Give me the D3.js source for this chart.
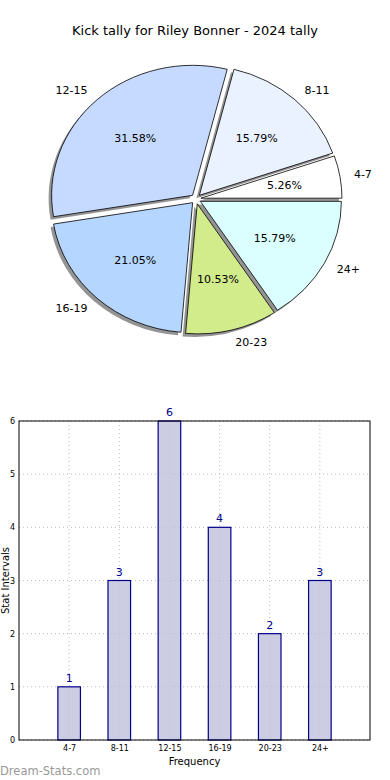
<!DOCTYPE html>
<html>
<head>
<meta charset="utf-8">
<script src="https://cdn.jsdelivr.net/npm/d3@7"></script>
<style>
  body { margin: 0; background: #fff; }
  svg { display: block; font-family: "DejaVu Sans", sans-serif; }
</style>
</head>
<body>
<div id="chart"></div>
<script>
// data
const categories = ["4-7", "8-11", "12-15", "16-19", "20-23", "24+"];
const counts = [1, 3, 6, 4, 2, 3];
const sliceColors = ["#ffffff", "#eaf1ff", "#c6daff", "#b5d6ff", "#d2eb8b", "#dbffff"];
const yTicks = [0, 1, 2, 3, 4, 5, 6];
const title = "Kick tally for Riley Bonner - 2024 tally";

const W = 390, H = 780;
const svg = d3.select("#chart").append("svg")
    .attr("width", W)
    .attr("height", H);

svg.append("text")
    .attr("x", 195).attr("y", 35)
    .attr("text-anchor", "middle")
    .attr("font-size", 13)
    .attr("fill", "#000")
    .text(title);

// ---- pie (matplotlib style: starts east, counter-clockwise, exploded, shadow)
const cx = 196, cy = 199, rx = 141, ry = 130, explode = 5;
const total = d3.sum(counts);

const pie = d3.pie()
    .sort(null)
    .startAngle(Math.PI / 2)
    .endAngle(Math.PI / 2 - 2 * Math.PI);
const arcs = pie(counts);

const arc = d3.arc().innerRadius(0).outerRadius(rx);

const pieG = svg.append("g")
    .attr("transform", "translate(" + cx + "," + cy + ") scale(1," + (ry / rx) + ")");

function offset(d, dist) {
    const a = (d.startAngle + d.endAngle) / 2;
    return [Math.sin(a) * dist, -Math.cos(a) * dist];
}

// shadows first, behind every wedge
pieG.selectAll("path.shadow")
    .data(arcs)
    .enter().append("path")
    .attr("class", "shadow")
    .attr("d", arc)
    .attr("fill", "#000")
    .attr("opacity", 0.42)
    .attr("transform", function (d) {
        const o = offset(d, explode);
        return "translate(" + (o[0] - 3) + "," + (o[1] * rx / ry + 3 * rx / ry) + ")";
    });

pieG.selectAll("path.wedge")
    .data(arcs)
    .enter().append("path")
    .attr("class", "wedge")
    .attr("d", arc)
    .attr("fill", function (d, i) { return sliceColors[i]; })
    .attr("stroke", "#000")
    .attr("stroke-width", 0.8)
    .attr("vector-effect", "non-scaling-stroke")
    .attr("transform", function (d) {
        const o = offset(d, explode);
        return "translate(" + o[0] + "," + (o[1] * rx / ry) + ")";
    });

// labels (outside) and percents (inside), placed in screen space
arcs.forEach(function (d, i) {
    const a = (d.startAngle + d.endAngle) / 2;
    const o = offset(d, explode);
    const sx = Math.sin(a), sy = -Math.cos(a);
    const lx = cx + o[0] + 1.1 * rx * sx;
    const ly = cy + o[1] + 1.1 * ry * sy;
    svg.append("text")
        .attr("x", lx).attr("y", ly)
        .attr("dy", "0.35em")
        .attr("text-anchor", sx >= 0 ? "start" : "end")
        .attr("font-size", 11)
        .text(categories[i]);
    const px = cx + o[0] + 0.6 * rx * sx;
    const py = cy + o[1] + 0.6 * ry * sy;
    svg.append("text")
        .attr("x", px).attr("y", py)
        .attr("dy", "0.35em")
        .attr("text-anchor", "middle")
        .attr("font-size", 11)
        .text((counts[i] / total * 100).toFixed(2) + "%");
});

// ---- bar chart
const bLeft = 19, bRight = 370, bTop = 421, bBottom = 740;

const x = d3.scaleLinear().domain([-1, categories.length]).range([bLeft, bRight]);
const y = d3.scaleLinear().domain([0, 6]).range([bBottom, bTop]);
const barW = 0.45;

const bars = svg.append("g");

// grid
bars.selectAll("line.gy")
    .data(yTicks)
    .enter().append("line")
    .attr("x1", bLeft).attr("x2", bRight)
    .attr("y1", function (d) { return y(d); })
    .attr("y2", function (d) { return y(d); })
    .attr("stroke", "#bbb")
    .attr("stroke-width", 1)
    .attr("stroke-dasharray", "1,3");

bars.selectAll("line.gx")
    .data(categories)
    .enter().append("line")
    .attr("x1", function (d, i) { return x(i); })
    .attr("x2", function (d, i) { return x(i); })
    .attr("y1", bTop).attr("y2", bBottom)
    .attr("stroke", "#bbb")
    .attr("stroke-width", 1)
    .attr("stroke-dasharray", "1,3");

bars.selectAll("rect.bar")
    .data(counts)
    .enter().append("rect")
    .attr("x", function (d, i) { return x(i - barW / 2); })
    .attr("width", x(barW) - x(0))
    .attr("y", function (d) { return y(d); })
    .attr("height", function (d) { return y(0) - y(d); })
    .attr("fill", "#bfbfdc")
    .attr("fill-opacity", 0.8)
    .attr("stroke", "#00008b")
    .attr("stroke-width", 1.2);

bars.selectAll("text.val")
    .data(counts)
    .enter().append("text")
    .attr("x", function (d, i) { return x(i); })
    .attr("y", function (d) { return y(d) - 5; })
    .attr("text-anchor", "middle")
    .attr("font-size", 11)
    .attr("fill", "#00008b")
    .text(function (d) { return d; });

// axes frame
bars.append("rect")
    .attr("x", bLeft).attr("y", bTop)
    .attr("width", bRight - bLeft).attr("height", bBottom - bTop)
    .attr("fill", "none")
    .attr("stroke", "#000")
    .attr("stroke-width", 1);

const yAxis = d3.axisLeft(y).tickValues(yTicks).tickSize(0).tickPadding(4).tickFormat(d3.format("d"));
bars.append("g")
    .attr("transform", "translate(" + bLeft + ",0)")
    .call(yAxis)
    .call(function (g) { g.select(".domain").remove(); })
    .selectAll("text")
    .attr("font-size", 8)
    .attr("font-family", "DejaVu Sans, sans-serif");

const xAxis = d3.axisBottom(x).tickValues(d3.range(categories.length)).tickSize(0).tickPadding(5)
    .tickFormat(function (d) { return categories[d]; });
bars.append("g")
    .attr("transform", "translate(0," + bBottom + ")")
    .call(xAxis)
    .call(function (g) { g.select(".domain").remove(); })
    .selectAll("text")
    .attr("font-size", 8)
    .attr("font-family", "DejaVu Sans, sans-serif");

svg.append("text")
    .attr("x", (bLeft + bRight) / 2).attr("y", 765)
    .attr("text-anchor", "middle")
    .attr("font-size", 10)
    .text("Frequency");

svg.append("text")
    .attr("transform", "translate(9," + ((bTop + bBottom) / 2) + ") rotate(-90)")
    .attr("text-anchor", "middle")
    .attr("font-size", 10)
    .text("Stat Intervals");

svg.append("text")
    .attr("x", 0).attr("y", 775)
    .attr("font-size", 11.5)
    .attr("fill", "#999")
    .text("Dream-Stats.com");
</script>
</body>
</html>
